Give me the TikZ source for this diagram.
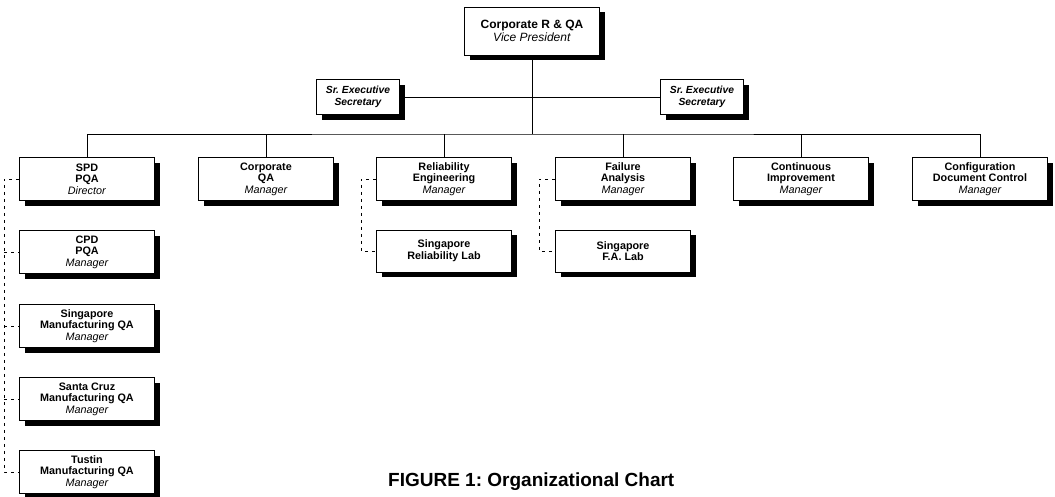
\documentclass[tikz,border=0pt]{standalone}
\usepackage{fontspec}
\setmainfont{Liberation Sans}
\usetikzlibrary{shadows}
\frenchspacing
\begin{document}
\begin{tikzpicture}[x=1pt,y=-1pt,
  box/.style={draw=black,line width=0.8pt,fill=white,rectangle,align=center,
    inner sep=1pt,font=\fontsize{10.8}{11.6}\selectfont\bfseries,
    drop shadow={shadow xshift=5pt,shadow yshift=-5pt,fill=black,opacity=1}},
  unit/.style={box,minimum width=135pt,minimum height=43pt},
  sec/.style={box,minimum width=83pt,minimum height=35pt,font=\fontsize{10.3}{11.6}\selectfont\bfseries},
  topbox/.style={box,minimum width=135pt,minimum height=48pt,font=\fontsize{12}{13}\selectfont\bfseries},
  link/.style={line width=0.8pt},
  dotted link/.style={line width=0.6pt,dash pattern=on 3pt off 4pt}]
\useasboundingbox (0,0) rectangle (1055,496);

% head of the organization
\node[topbox] (vp) at (532,31) {Corporate R \& QA\\\textmd{\itshape Vice President}};

% executive secretaries
\node[sec] (secL) at (358,97) {\itshape Sr. Executive\\\itshape Secretary};
\node[sec] (secR) at (702,97) {\itshape Sr. Executive\\\itshape Secretary};

% first row of departments
\node[unit] (spd)  at (87,179)  {SPD\\PQA\\\textmd{\itshape Director}};
\node[unit] (cqa)  at (266,179) {Corporate\\QA\\\textmd{\itshape Manager}};
\node[unit] (rel)  at (444,179) {Reliability\\Engineering\\\textmd{\itshape Manager}};
\node[unit] (fa)   at (623,179) {Failure\\Analysis\\\textmd{\itshape Manager}};
\node[unit] (ci)   at (801,179) {Continuous\\Improvement\\\textmd{\itshape Manager}};
\node[unit] (cdc)  at (980,179) {Configuration\\Document Control\\\textmd{\itshape Manager}};

% laboratories
\node[unit,minimum height=42pt] (rlab) at (444,251) {Singapore\\Reliability Lab};
\node[unit,minimum height=42pt] (falab) at (623,251) {Singapore\\F.A. Lab};

% SPD PQA column
\node[unit] (cpd)  at (87,252) {CPD\\PQA\\\textmd{\itshape Manager}};
\node[unit] (smqa) at (87,326) {Singapore\\Manufacturing QA\\\textmd{\itshape Manager}};
\node[unit] (scqa) at (87,399) {Santa Cruz\\Manufacturing QA\\\textmd{\itshape Manager}};
\node[unit] (tqa)  at (87,472) {Tustin\\Manufacturing QA\\\textmd{\itshape Manager}};

% solid reporting lines
\coordinate (bus) at (532,134);
\draw[link] (vp.south) -- (bus);
\draw[link] (secL.east) -- (secR.west);
\draw[link] (spd.north) |- (bus) -| (cdc.north);
\foreach \n in {cqa,rel,fa,ci} \draw[link] (\n.north) -- (\n.north |- bus);

% dotted-line relationships
\coordinate (lrail) at (4,0);
\draw[dotted link] (spd.west) -- (spd.west -| lrail) -- (tqa.west -| lrail) -- (tqa.west);
\foreach \n in {cpd,smqa,scqa} \draw[dotted link] (\n.west -| lrail) -- (\n.west);
\coordinate (rrail) at (361,0);
\draw[dotted link] (rel.west) -- (rel.west -| rrail) -- (rlab.west -| rrail) -- (rlab.west);
\coordinate (frail) at (539,0);
\draw[dotted link] (fa.west) -- (fa.west -| frail) -- (falab.west -| frail) -- (falab.west);

% caption
\node[font=\fontsize{19}{21}\selectfont\bfseries,anchor=west,inner sep=0pt] (cap) at (388,482) {FIGURE 1: Organizational Chart};
\end{tikzpicture}
\end{document}
